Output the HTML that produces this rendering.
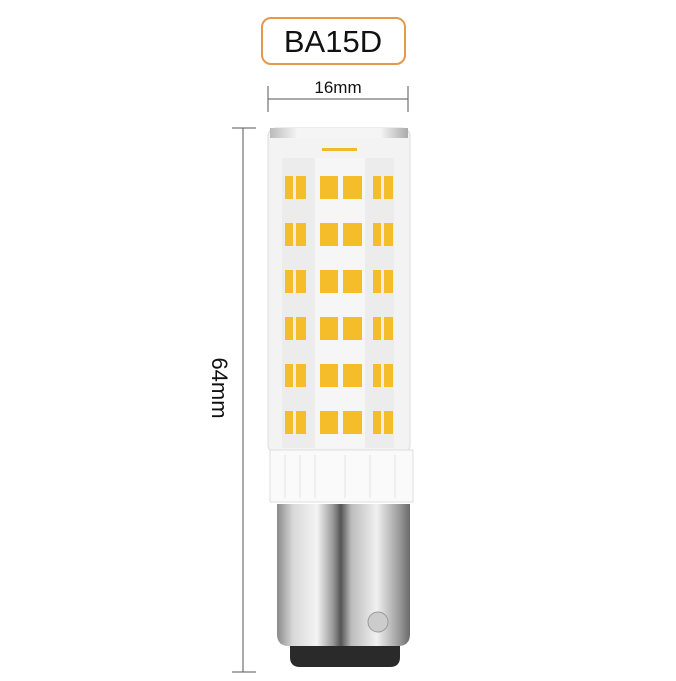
<!DOCTYPE html><html><head><style>body{margin:0;background:#fff}</style></head><body>
<svg width="676" height="676" xmlns="http://www.w3.org/2000/svg" font-family="Liberation Sans, sans-serif">
<defs>
<linearGradient id="m" x1="0" x2="1"><stop offset="0" stop-color="#8a8a8a"/><stop offset=".12" stop-color="#d8d8d8"/><stop offset=".3" stop-color="#f4f4f4"/><stop offset=".42" stop-color="#9a9a9a"/><stop offset=".48" stop-color="#555"/><stop offset=".56" stop-color="#bdbdbd"/><stop offset=".75" stop-color="#f0f0f0"/><stop offset=".92" stop-color="#9a9a9a"/><stop offset="1" stop-color="#6a6a6a"/></linearGradient>
<linearGradient id="t" x1="0" x2="1"><stop offset="0" stop-color="#bbb"/><stop offset=".2" stop-color="#f5f5f5"/><stop offset=".8" stop-color="#f5f5f5"/><stop offset="1" stop-color="#aaa"/></linearGradient>
</defs>
<rect x="262" y="18" width="143" height="46" rx="9" fill="#fff" stroke="#e39a4a" stroke-width="2"/>
<text x="333" y="52" font-size="31" text-anchor="middle" fill="#111">BA15D</text>
<line x1="268" y1="86" x2="268" y2="112" stroke="#555"/><line x1="408" y1="86" x2="408" y2="112" stroke="#555"/>
<line x1="268" y1="99" x2="408" y2="99" stroke="#555"/>
<text x="338" y="93" font-size="17" text-anchor="middle" fill="#111">16mm</text>
<line x1="243" y1="128" x2="243" y2="672" stroke="#555"/>
<line x1="232" y1="128" x2="256" y2="128" stroke="#555"/><line x1="232" y1="672" x2="256" y2="672" stroke="#555"/>
<text transform="translate(212,388) rotate(90)" font-size="22" text-anchor="middle" fill="#111">64mm</text>
<rect x="268" y="128" width="142" height="325" rx="8" fill="#f3f3f3" stroke="#ddd"/>
<rect x="270" y="128" width="138" height="10" fill="url(#t)"/>
<rect x="282" y="158" width="112" height="290" fill="#ececec"/>
<rect x="315" y="158" width="50" height="290" fill="#f6f6f6"/>
<rect x="322" y="148" width="35" height="3" fill="#f1b92c"/>
<g fill="#f5bd2a">
<g id="r"><rect x="285" y="176" width="8" height="23"/><rect x="296" y="176" width="10" height="23"/><rect x="320" y="176" width="18" height="23"/><rect x="343" y="176" width="19" height="23"/><rect x="373" y="176" width="8" height="23"/><rect x="384" y="176" width="9" height="23"/></g>
<use href="#r" y="47"/><use href="#r" y="94"/><use href="#r" y="141"/><use href="#r" y="188"/><use href="#r" y="235"/>
</g>
<rect x="270" y="450" width="143" height="52" fill="#fafafa" stroke="#ddd"/>
<g stroke="#e2e2e2"><line x1="285" y1="455" x2="285" y2="498"/><line x1="300" y1="455" x2="300" y2="498"/><line x1="315" y1="455" x2="315" y2="498"/><line x1="345" y1="455" x2="345" y2="498"/><line x1="370" y1="455" x2="370" y2="498"/><line x1="395" y1="455" x2="395" y2="498"/></g>
<path d="M290 643 h110 v14 q0 10 -10 10 h-90 q-10 0 -10 -10z" fill="#2a2a2a"/>
<path d="M277 504 h133 v130 q0 12 -12 12 h-109 q-12 0 -12 -12z" fill="url(#m)"/>
<circle cx="378" cy="622" r="10" fill="#ccc" stroke="#999"/>
</svg>
</body></html>
